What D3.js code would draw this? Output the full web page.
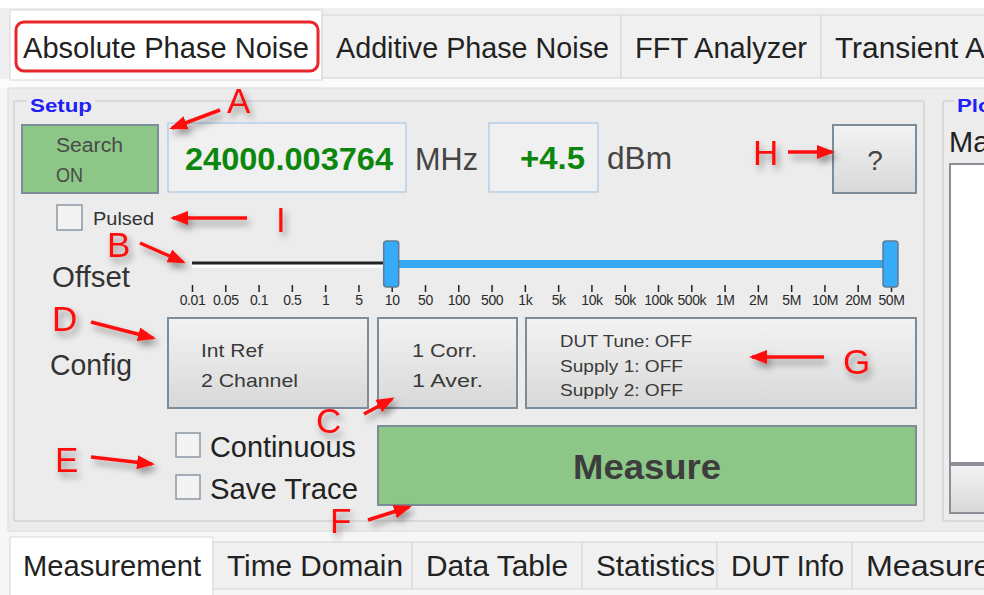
<!DOCTYPE html>
<html>
<head>
<meta charset="utf-8">
<script src="https://cdn.jsdelivr.net/npm/d3@7"></script>
<style>
  body { margin: 0; background: #f6f6f6; overflow: hidden; }
  svg { display: block; font-family: "Liberation Sans", Arial, sans-serif; }
</style>
</head>
<body>
<svg id="panel" width="984" height="595"></svg>
<script>
// tab labels
var topTabs = ["Absolute Phase Noise", "Additive Phase Noise", "FFT Analyzer", "Transient Analyzer"];
var bottomTabs = ["Measurement", "Time Domain", "Data Table", "Statistics", "DUT Info", "Measurement Log"];

// offset slider ticks and selected range
var offsetTicks = ["0.01", "0.05", "0.1", "0.5", "1", "5", "10", "50", "100", "500",
  "1k", "5k", "10k", "50k", "100k", "500k", "1M", "2M", "5M", "10M", "20M", "50M"];
var offsetRange = ["10", "50M"];

// readouts
var freqValue = "24000.003764", freqUnit = "MHz";
var powerValue = "+4.5", powerUnit = "dBm";
var searchLabel = ["Search", "ON"];

// config buttons
var configLines = [
  ["Int Ref", "2 Channel"],
  ["1 Corr.", "1 Aver."],
  ["DUT Tune: OFF", "Supply 1: OFF", "Supply 2: OFF"]
];
var checkLabels = ["Continuous", "Save Trace"];
var calloutLetters = ["A", "H", "I", "B", "D", "G", "C", "E", "F"];

var svg = d3.select("#panel");
var defs = svg.append("defs");

defs.append("filter").attr("id", "shadow")
  .attr("x", "-50%").attr("y", "-50%").attr("width", "200%").attr("height", "200%")
  .append("feDropShadow")
  .attr("dx", 3).attr("dy", 5).attr("stdDeviation", 3.5)
  .attr("flood-color", "#000").attr("flood-opacity", 0.4);

var grad = defs.append("linearGradient").attr("id", "btnGrad")
  .attr("x1", 0).attr("y1", 0).attr("x2", 0).attr("y2", 1);
grad.append("stop").attr("offset", "0%").attr("stop-color", "#f3f3f3");
grad.append("stop").attr("offset", "100%").attr("stop-color", "#d8d8d8");

defs.append("marker").attr("id", "head")
  .attr("markerUnits", "userSpaceOnUse")
  .attr("markerWidth", 18).attr("markerHeight", 14)
  .attr("refX", 15).attr("refY", 7).attr("orient", "auto")
  .append("path").attr("d", "M0,0 L18,7 L0,14 Z").attr("fill", "#ff1010");

// background bands
svg.append("rect").attr("x", 0).attr("y", 0).attr("width", 984).attr("height", 8).attr("fill", "#ffffff");
svg.append("rect").attr("x", 0).attr("y", 8).attr("width", 984).attr("height", 72).attr("fill", "#efefef");
svg.append("rect").attr("x", 0).attr("y", 79).attr("width", 984).attr("height", 9).attr("fill", "#fbfbfb");
svg.append("rect").attr("x", 8).attr("y", 88).attr("width", 990).attr("height", 443)
  .attr("fill", "#ececec").attr("stroke", "#dcdcdc");

// ---- top tabs ----
var topEdges = [10, 322, 621, 821, 1070];
var topWidths = [286, 273, 172, 246];
var topG = svg.append("g");
topTabs.forEach(function (t, i) {
  var active = i === 0;
  topG.append("rect")
    .attr("x", topEdges[i]).attr("y", active ? 10 : 15)
    .attr("width", topEdges[i + 1] - topEdges[i]).attr("height", active ? 70 : 63)
    .attr("fill", active ? "#ffffff" : "#f0f0f0")
    .attr("stroke", "#d6d6d6");
  topG.append("text")
    .attr("x", topEdges[i] + (active ? 13 : 14)).attr("y", 58)
    .attr("font-size", 30).attr("fill", "#222")
    .attr("textLength", topWidths[i]).attr("lengthAdjust", "spacingAndGlyphs")
    .text(t);
});
topG.append("rect").attr("x", 16).attr("y", 22).attr("width", 302).attr("height", 49)
  .attr("rx", 8).attr("fill", "none").attr("stroke", "#e8262b").attr("stroke-width", 3);

// ---- group boxes ----
function groupBox(x, y, w, h, label, lx, lw) {
  svg.append("rect").attr("x", x).attr("y", y).attr("width", w).attr("height", h)
    .attr("rx", 2).attr("fill", "none").attr("stroke", "#d2d2d2").attr("stroke-width", 1.5);
  svg.append("rect").attr("x", lx - 3).attr("y", y - 4).attr("width", lw + 6).attr("height", 8).attr("fill", "#ececec");
  svg.append("text").attr("x", lx).attr("y", 112).attr("font-size", 19).attr("font-weight", "bold")
    .attr("fill", "#2121f5").attr("textLength", lw).attr("lengthAdjust", "spacingAndGlyphs").text(label);
}
groupBox(14, 101, 910, 420, "Setup", 30, 62);
groupBox(943, 101, 60, 420, "Plot", 957, 42);

// plot panel contents (clipped by the window)
svg.append("text").attr("x", 949).attr("y", 152).attr("font-size", 29).attr("fill", "#222").text("Markers");
svg.append("rect").attr("x", 950).attr("y", 164).attr("width", 60).attr("height", 299)
  .attr("fill", "#ffffff").attr("stroke", "#8b9096").attr("stroke-width", 2);
svg.append("rect").attr("x", 950).attr("y", 465).attr("width", 60).attr("height", 48)
  .attr("fill", "url(#btnGrad)").attr("stroke", "#8b9096").attr("stroke-width", 2);

// ---- buttons ----
function button(x, y, w, h, fill) {
  return svg.append("rect").attr("x", x).attr("y", y).attr("width", w).attr("height", h)
    .attr("fill", fill).attr("stroke", "#7d8c99").attr("stroke-width", 2);
}
function label(x, y, size, t, len, opts) {
  var el = svg.append("text").attr("x", x).attr("y", y).attr("font-size", size)
    .attr("fill", (opts && opts.fill) || "#3a3a3a").text(t);
  if (len) el.attr("textLength", len).attr("lengthAdjust", "spacingAndGlyphs");
  if (opts && opts.bold) el.attr("font-weight", "bold");
  if (opts && opts.anchor) el.attr("text-anchor", opts.anchor);
  return el;
}

// search button
button(22, 125, 136, 68, "#8cc787");
label(56, 152, 20, searchLabel[0], 67, { fill: "#4a4a4a" });
label(56, 182, 20, searchLabel[1], 27, { fill: "#4a4a4a" });

// readout boxes
svg.append("rect").attr("x", 168).attr("y", 123).attr("width", 238).attr("height", 69)
  .attr("fill", "#f0f0f0").attr("stroke", "#b7cfe8").attr("stroke-width", 1.5);
label(185, 170, 32, freqValue, 208, { bold: true, fill: "#0c860c" });
label(415, 170, 31, freqUnit, 63, { fill: "#444" });

svg.append("rect").attr("x", 489).attr("y", 123).attr("width", 109).attr("height", 69)
  .attr("fill", "#f0f0f0").attr("stroke", "#b7cfe8").attr("stroke-width", 1.5);
label(520, 169, 32, powerValue, 65, { bold: true, fill: "#0c860c" });
label(607, 169, 31, powerUnit, 65, { fill: "#444" });

// help button
button(833, 125, 83, 68, "url(#btnGrad)");
label(875, 170, 28, "?", null, { anchor: "middle", fill: "#444" });

// pulsed checkbox
svg.append("rect").attr("x", 57).attr("y", 205).attr("width", 25).attr("height", 25)
  .attr("fill", "#f3f3f3").attr("stroke", "#8c98a4").attr("stroke-width", 1.5);
label(93, 225, 18, "Pulsed", 61, { fill: "#333" });

// ---- offset slider ----
label(52, 287, 29, "Offset", 78, { fill: "#333" });

var xOffset = d3.scalePoint().domain(offsetTicks).range([192, 891]);
var sliderY = 264;
svg.append("line").attr("x1", xOffset(offsetTicks[0])).attr("x2", xOffset(offsetRange[0]))
  .attr("y1", sliderY + 2).attr("y2", sliderY + 2).attr("stroke", "#ffffff").attr("stroke-width", 3);
svg.append("line").attr("x1", xOffset(offsetTicks[0])).attr("x2", xOffset(offsetRange[0]))
  .attr("y1", sliderY - 1).attr("y2", sliderY - 1).attr("stroke", "#222").attr("stroke-width", 3);
svg.append("line").attr("x1", xOffset(offsetRange[0])).attr("x2", xOffset(offsetRange[1]))
  .attr("y1", sliderY).attr("y2", sliderY).attr("stroke", "#37a9f3").attr("stroke-width", 8);

var axisG = svg.append("g").attr("transform", "translate(0,285)")
  .call(d3.axisBottom(xOffset).tickSize(7).tickPadding(3));
axisG.select(".domain").remove();
axisG.selectAll(".tick line").attr("stroke", "#222").attr("stroke-width", 1.5);
axisG.selectAll(".tick text").attr("font-size", 14).attr("fill", "#2a2a2a")
  .attr("font-family", "Liberation Sans, Arial, sans-serif").attr("letter-spacing", -0.4);

svg.selectAll(".handle").data(offsetRange).enter().append("rect")
  .attr("class", "handle")
  .attr("x", function (d) { return xOffset(d) - 8; })
  .attr("y", 241).attr("width", 15).attr("height", 46).attr("rx", 3)
  .attr("fill", "#36abf7").attr("stroke", "#5f7c94").attr("stroke-width", 1.5);

// ---- config ----
label(50, 375, 29, "Config", 82, { fill: "#333" });
var cfgBoxes = [[168, 200], [378, 139], [526, 390]];
var cfgText = [
  { x: 201, ys: [357, 387], size: 19 },
  { x: 412, ys: [357, 387], size: 19 },
  { x: 560, ys: [347, 372, 396], size: 17 }
];
var cfgLens = [[62, 97], [65, 71], [132, 123, 123]];
configLines.forEach(function (lines, i) {
  button(cfgBoxes[i][0], 318, cfgBoxes[i][1], 90, "url(#btnGrad)");
  lines.forEach(function (t, j) {
    label(cfgText[i].x, cfgText[i].ys[j], cfgText[i].size, t, cfgLens[i][j], { fill: "#3a3a3a" });
  });
});

// ---- run options ----
var checkY = [433, 475];
var checkLens = [146, 148];
checkLabels.forEach(function (t, i) {
  svg.append("rect").attr("x", 176).attr("y", checkY[i]).attr("width", 24).attr("height", 24)
    .attr("fill", "#f3f3f3").attr("stroke", "#8c98a4").attr("stroke-width", 1.5);
  label(210, checkY[i] + 24, 29, t, checkLens[i], { fill: "#222" });
});

button(378, 426, 538, 79, "#8cc787");
label(647, 479, 35, "Measure", 148, { bold: true, anchor: "middle", fill: "#3d3d3d" });

// ---- bottom tabs ----
var botEdges = [10, 213, 412, 582, 717, 852, 1080];
var botWidths = [178, 176, 142, 119, 113, 260];
var botTabs = svg.append("g");
bottomTabs.forEach(function (t, i) {
  var active = i === 0;
  botTabs.append("rect")
    .attr("x", botEdges[i]).attr("y", active ? 537 : 542)
    .attr("width", botEdges[i + 1] - botEdges[i]).attr("height", active ? 70 : 47)
    .attr("fill", active ? "#ffffff" : "#f0f0f0").attr("stroke", "#d6d6d6");
  botTabs.append("text")
    .attr("x", botEdges[i] + (active ? 13 : 14)).attr("y", 576)
    .attr("font-size", 29).attr("fill", "#222")
    .attr("textLength", botWidths[i]).attr("lengthAdjust", "spacingAndGlyphs")
    .text(t);
});

// ---- red callouts ----
var letterPos = [[227, 113], [753, 165], [276, 232], [107, 257], [52, 331], [843, 374], [316, 433], [55, 472], [330, 533]];
var arrows = [
  [220, 110, 172, 128], [788, 152, 832, 152], [247, 218, 173, 218],
  [140, 243, 183, 262], [91, 322, 153, 338], [824, 357, 752, 357],
  [364, 414, 392, 399], [91, 457, 152, 464], [368, 520, 409, 507]
];
var calloutG = svg.append("g").attr("filter", "url(#shadow)");
calloutG.selectAll("text").data(calloutLetters).enter().append("text")
  .attr("x", function (d, i) { return letterPos[i][0]; })
  .attr("y", function (d, i) { return letterPos[i][1]; })
  .attr("font-size", 35).attr("fill", "#ff1010")
  .text(function (d) { return d; });
calloutG.selectAll("line").data(arrows).enter().append("line")
  .attr("x1", function (d) { return d[0]; }).attr("y1", function (d) { return d[1]; })
  .attr("x2", function (d) { return d[2]; }).attr("y2", function (d) { return d[3]; })
  .attr("stroke", "#ff1010").attr("stroke-width", 3.5)
  .attr("marker-end", "url(#head)");
</script>
</body>
</html>
